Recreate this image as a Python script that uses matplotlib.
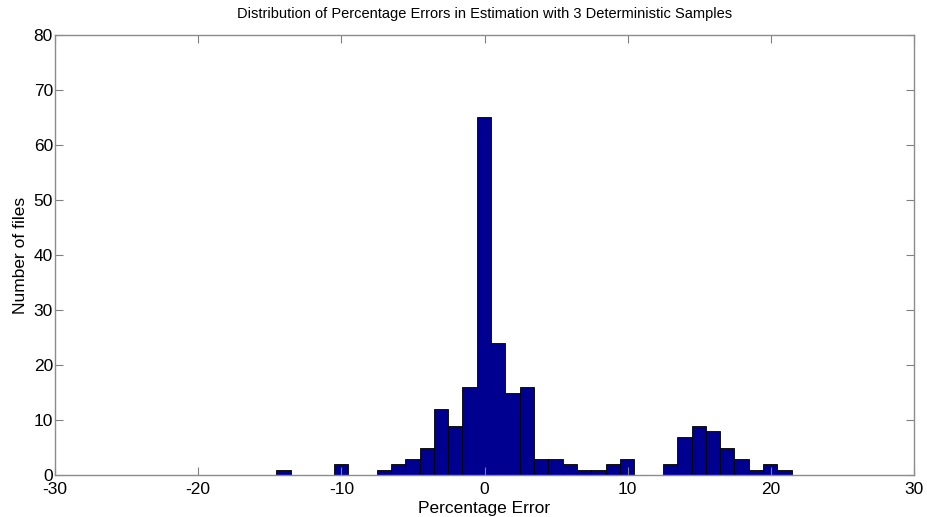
import numpy as np
import matplotlib
matplotlib.use('Agg')
import matplotlib.pyplot as plt

plt.rc('font', family=['Liberation Sans', 'DejaVu Sans'])
plt.rc('axes', unicode_minus=False)

# histogram of percentage errors, 36 bins of width 1
bin_start = -14.54
bin_width = 1.0
counts = [1, 0, 0, 0, 2, 0, 0, 1, 2, 3, 5, 12, 9, 16, 65, 24, 15, 16,
          3, 3, 2, 1, 1, 2, 3, 0, 0, 2, 7, 9, 8, 5, 3, 1, 2, 1]

x_ticks = [-30, -20, -10, 0, 10, 20, 30]
y_ticks = [0, 10, 20, 30, 40, 50, 60, 70, 80]

edges = bin_start + bin_width * np.arange(len(counts) + 1)

fig = plt.figure(figsize=(9.27, 5.17), dpi=100)
ax = fig.add_axes([55/927, 1 - 475.3/517, (914-55)/927, (475.3-34.7)/517])

ax.bar(edges[:-1], counts, width=bin_width, align='edge',
       color='#000090', edgecolor='black', linewidth=0.6)

ax.set_xlim(-30, 30)
ax.set_ylim(0, 80)
ax.set_xticks(x_ticks)
ax.set_yticks(y_ticks)
ax.tick_params(direction='in', length=6, width=0.8, color='#808080',
               top=True, right=True, labelsize=12.5)
ax.tick_params(axis='x', pad=5)
ax.tick_params(axis='y', pad=1.5)
for s in ax.spines.values():
    s.set_color('#8c8c8c')
    s.set_linewidth(1.0)

ax.set_title('Distribution of Percentage Errors in Estimation with 3 Deterministic Samples',
             fontsize=10.5, pad=12)
ax.set_xlabel('Percentage Error', fontsize=12.5, labelpad=2.5)
ax.set_ylabel('Number of files', fontsize=12.5, labelpad=4)

fig.savefig('out.png', dpi=100)
